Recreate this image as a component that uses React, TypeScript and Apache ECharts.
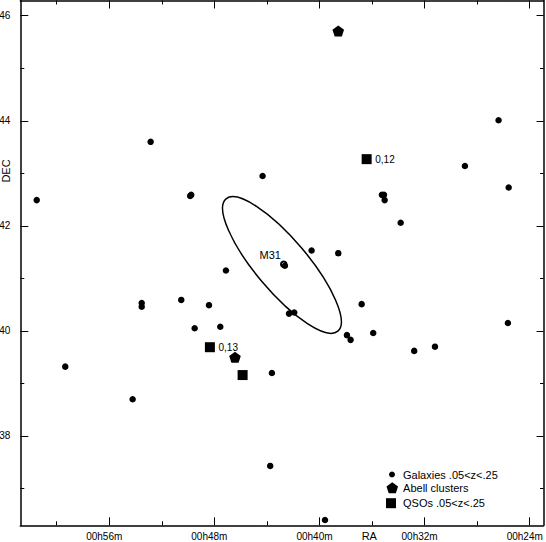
import React, { useEffect, useRef } from "react";
import * as echarts from "echarts";

// RA in minutes of time (00h..m), DEC in degrees
const galaxies: [number, number][] = [
  [61.52, 42.49], [52.85, 43.6], [49.84, 42.57], [49.76, 42.59], [44.33, 42.95],
  [47.12, 41.15], [26.37, 44.01], [28.93, 43.14], [25.6, 42.73], [35.25, 42.59],
  [35.09, 42.59], [35.04, 42.49], [33.82, 42.06], [40.6, 41.53], [38.57, 41.48],
  [42.63, 41.24], [59.35, 39.32], [54.22, 38.7], [53.53, 40.53], [53.53, 40.46],
  [50.52, 40.59], [48.41, 40.49], [49.5, 40.05], [47.55, 40.08], [43.62, 39.2],
  [43.75, 37.43], [42.32, 40.33], [41.92, 40.35], [36.79, 40.51], [37.91, 39.92],
  [37.63, 39.83], [35.91, 39.96], [32.79, 39.62], [31.21, 39.7], [25.66, 40.15],
  [39.58, 36.4],
];
const abellClusters: [number, number][] = [
  [38.57, 45.71],
  [46.43, 39.5],
];
const qsos: [number, number][] = [
  [36.41, 43.27],
  [48.34, 39.69],
  [45.85, 39.16],
];
const qsoLabels = ["0,12", "0,13", ""];
const m31Nucleus: [number, number] = [42.72, 41.27];
// ellipse: major-axis tip 1 (RA, DEC), tip 2 (RA, DEC), axis ratio b/a
const m31Ellipse = [47.11, 42.515, 38.6, 39.995, 0.3];

const raMajorTicks = [24, 32, 40, 48, 56];
const raMinorTicks = [28, 36, 44, 52, 60];
const raTickLabels = ["00h24m", "00h32m", "00h40m", "00h48m", "00h56m"];
const decMajorTicks = [38, 40, 42, 44, 46];
const decMinorTicks = [37, 39, 41, 43, 45];
const decTickLabels = ["38", "40", "42", "44", "46"];

const X_MIN = 22.95;
const X_MAX = 62.77;
const Y_MIN = 36.3;
const Y_MAX = 46.29;

const FONT = "'Liberation Sans', Arial, Helvetica, sans-serif";
const PENTAGON =
  "path://M0,-1L0.951,-0.309L0.588,0.809L-0.588,0.809L-0.951,-0.309Z";

const GRID = { left: 20.3, right: 2.5, top: 0.5, bottom: 16.7 };
const WIDTH = 546;
const HEIGHT = 542;
// the reference draws RA tick labels ~5px left of their ticks
const LABEL_SHIFT_PX = 5;

export default function App() {
  const ref = useRef<HTMLDivElement>(null);
  useEffect(() => {
    if (!ref.current) return;
    const chart = echarts.init(ref.current, null, { renderer: "svg" });

    const pxPerMin = (WIDTH - GRID.left - GRID.right) / (X_MAX - X_MIN);
    const shift = LABEL_SHIFT_PX / pxPerMin; // inverse axis: larger value lies further left
    const raLabelValues = raMajorTicks.map((t) => t + shift);

    const lineStyle = { color: "#000", width: 1.5 };
    const mkX = (position: string, ticks: number[], len: number, labels: boolean, showLine: boolean) => ({
      type: "value",
      position,
      min: X_MIN,
      max: X_MAX,
      inverse: true,
      splitLine: { show: false },
      axisLine: { show: showLine, onZero: false, lineStyle },
      axisTick: {
        show: true,
        inside: true,
        length: len,
        customValues: ticks,
        lineStyle: { color: "#000", width: 1 },
      },
      axisLabel: labels
        ? {
            show: true,
            customValues: raLabelValues,
            margin: 7,
            fontSize: 10,
            lineHeight: 9,
            color: "#000",
            fontFamily: FONT,
            formatter: (v: number) => raTickLabels[raMajorTicks.indexOf(Math.round(v))] ?? "",
          }
        : { show: false },
    });
    const mkY = (position: string, ticks: number[], len: number, labels: boolean, showLine: boolean) => ({
      type: "value",
      position,
      min: Y_MIN,
      max: Y_MAX,
      splitLine: { show: false },
      axisLine: { show: showLine, onZero: false, lineStyle },
      axisTick: {
        show: true,
        inside: true,
        length: len,
        customValues: ticks,
        lineStyle: { color: "#000", width: 1 },
      },
      axisLabel: labels
        ? {
            show: true,
            customValues: ticks,
            margin: 10,
            fontSize: 10,
            color: "#000",
            fontFamily: FONT,
            formatter: (v: number) => decTickLabels[decMajorTicks.indexOf(Math.round(v))] ?? "",
          }
        : { show: false },
    });

    const legendBase = {
      orient: "vertical",
      padding: 0,
      selectedMode: false,
      textStyle: { fontSize: 11, color: "#000", fontFamily: FONT },
    };

    chart.setOption({
      animation: false,
      backgroundColor: "#fff",
      grid: { ...GRID, containLabel: false, outerBoundsMode: "none" },
      xAxis: [
        mkX("bottom", raMajorTicks, 8, true, true),
        mkX("bottom", raMinorTicks, 4, false, false),
        mkX("top", raMajorTicks, 8, false, true),
        mkX("top", raMinorTicks, 4, false, false),
      ],
      yAxis: [
        mkY("left", decMajorTicks, 8, true, true),
        mkY("left", decMinorTicks, 4, false, false),
        mkY("right", decMajorTicks, 7, false, true),
        mkY("right", decMinorTicks, 3.5, false, false),
      ],
      legend: [
        {
          ...legendBase,
          data: [{ name: "Galaxies .05<z<.25", icon: "circle" }],
          left: 389,
          top: 469,
          itemWidth: 6,
          itemHeight: 6,
          textStyle: { ...legendBase.textStyle, padding: [0, 0, 0, 3] },
        },
        {
          ...legendBase,
          data: [{ name: "Abell clusters", icon: PENTAGON }],
          left: 386.5,
          top: 482.2,
          itemWidth: 11.6,
          itemHeight: 11,
        },
        {
          ...legendBase,
          data: [{ name: "QSOs .05<z<.25", icon: "rect" }],
          left: 386,
          top: 497.7,
          itemWidth: 10,
          itemHeight: 10,
          textStyle: { ...legendBase.textStyle, padding: [0, 0, 0, 2] },
        },
      ],
      graphic: [
        {
          type: "text",
          x: 369.3,
          y: 535.5,
          style: {
            text: "RA",
            fontSize: 11,
            lineHeight: 11,
            fontFamily: FONT,
            fill: "#000",
            align: "center",
            verticalAlign: "middle",
          },
        },
        {
          type: "text",
          x: 6,
          y: 171,
          rotation: Math.PI / 2,
          style: {
            text: "DEC",
            fontSize: 11,
            fontFamily: FONT,
            fill: "#000",
            align: "center",
            verticalAlign: "middle",
          },
        },
      ],
      series: [
        {
          type: "custom",
          name: "M31 ellipse",
          xAxisIndex: 0,
          yAxisIndex: 0,
          silent: true,
          data: [m31Ellipse],
          renderItem: (params: any, api: any) => {
            const p1 = api.coord([api.value(0), api.value(1)]);
            const p2 = api.coord([api.value(2), api.value(3)]);
            const dx = p2[0] - p1[0];
            const dy = p2[1] - p1[1];
            const a = Math.sqrt(dx * dx + dy * dy) / 2;
            const b = a * api.value(4);
            const ang = Math.atan2(dy, dx);
            return {
              type: "ellipse",
              x: (p1[0] + p2[0]) / 2,
              y: (p1[1] + p2[1]) / 2,
              rotation: -ang,
              shape: { cx: 0, cy: 0, rx: a, ry: b },
              style: { fill: "none", stroke: "#000", lineWidth: 1.5 },
            };
          },
        },
        {
          type: "scatter",
          name: "M31",
          xAxisIndex: 0,
          yAxisIndex: 0,
          data: [m31Nucleus],
          symbol: "emptyCircle",
          symbolSize: 5.5,
          itemStyle: { color: "#000", borderColor: "#000", borderWidth: 1.2, opacity: 1 },
          label: {
            show: true,
            formatter: "M31",
            position: "inside",
            offset: [-13.5, -9.3],
            fontSize: 11,
            color: "#000",
            opacity: 1,
            fontFamily: FONT,
          },
        },
        {
          type: "scatter",
          name: "Galaxies .05<z<.25",
          xAxisIndex: 0,
          yAxisIndex: 0,
          data: galaxies,
          symbol: "circle",
          symbolSize: 6.5,
          itemStyle: { color: "#000", opacity: 1 },
        },
        {
          type: "scatter",
          name: "Abell clusters",
          xAxisIndex: 0,
          yAxisIndex: 0,
          data: abellClusters,
          symbol: PENTAGON,
          symbolSize: [11.6, 11],
          itemStyle: { color: "#000", opacity: 1 },
        },
        {
          type: "scatter",
          name: "QSOs .05<z<.25",
          xAxisIndex: 0,
          yAxisIndex: 0,
          data: qsos,
          symbol: "rect",
          symbolSize: 10,
          itemStyle: { color: "#000", opacity: 1 },
          label: {
            show: true,
            position: "right",
            distance: 3.6,
            fontSize: 10,
            color: "#000",
            opacity: 1,
            fontFamily: FONT,
            formatter: (p: any) => qsoLabels[p.dataIndex],
          },
        },
      ],
    });
    return () => chart.dispose();
  }, []);
  return (
    <div
      ref={ref}
      style={{ position: "absolute", left: 0, top: 0, width: WIDTH, height: HEIGHT }}
    />
  );
}
